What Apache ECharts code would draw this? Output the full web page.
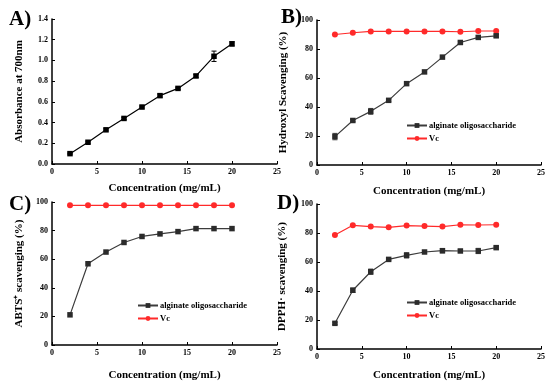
<!DOCTYPE html>
<html><head><meta charset="utf-8">
<script src="https://cdn.jsdelivr.net/npm/echarts@6/dist/echarts.min.js"></script>
<style>html,body{margin:0;padding:0;background:#fff}#c{width:550px;height:382px}</style>
</head><body><div id="c"></div>
<script>
var conc = [2,4,6,8,10,12,14,16,18,20];
var absA = [0.10,0.21,0.33,0.44,0.55,0.66,0.73,0.85,1.04,1.16];
var absAErr = [0.005,0.01,0.01,0.01,0.01,0.015,0.01,0.015,0.05,0.02];
var hydAOS = [19.6,30.7,37.0,44.6,56.1,64.2,74.4,84.5,88.0,89.1];
var hydAOSErr = [2.2,0.8,2.0,0.8,1.0,1.0,0.8,0.8,1.0,1.0];
var hydVc = [90.0,91.2,92.1,92.1,92.1,92.1,92.1,91.9,92.4,92.4];
var abtsAOS = [21.1,56.8,65.0,71.7,75.9,77.7,79.3,81.4,81.4,81.4];
var abtsVc = [97.7,97.7,97.7,97.7,97.7,97.7,97.7,97.7,97.7,97.7];
var dpphAOS = [17.7,40.5,53.3,61.8,64.6,66.9,67.8,67.6,67.6,69.9];
var dpphAOSErr = [0.8,1.5,1.8,0.8,1.8,0.8,1.5,1.0,1.8,1.0];
var dpphVc = [78.6,85.3,84.4,83.9,85.1,84.8,84.4,85.7,85.5,85.7];
var xTicks = [0,5,10,15,20,25];

var FONT = 'Liberation Serif';
function pairs(y){ return conc.map(function(x,i){return [x,y[i]];}); }
function errData(y,e){ return conc.map(function(x,i){return [x,y[i]-e[i],y[i]+e[i]];}); }

var grids = [
  {left:52, top:19, width:225, height:145},
  {left:317, top:20, width:224, height:145},
  {left:52, top:202, width:225, height:145},
  {left:317, top:204, width:224, height:145}
];
var xNames = ['Concentration (mg/mL)','Concentration (mg/mL)','Concentration (mg/mL)','Concentration (mg/mL)'];
var xGaps = [19,21,25,21];
var yNames = ['Absorbance at 700nm','Hydroxyl Scavenging (%)','ABTS\u207A scavenging (%)','DPPH\u00B7 scavenging (%)'];
var yGaps = [27,28,27,29];

var axisLine = {lineStyle:{color:'#000',width:1.5}};
var axisTick = {inside:true,length:3,lineStyle:{color:'#000',width:1}};
var lblStyle = {color:'#000',fontFamily:FONT,fontWeight:'bold',fontSize:8,margin:4};
var nameStyle = {color:'#000',fontFamily:FONT,fontWeight:'bold',fontSize:11};

var xAxis = grids.map(function(g,i){
  return {type:'value',gridIndex:i,min:0,max:25,interval:5,axisLine:axisLine,axisTick:axisTick,
    axisLabel:lblStyle,splitLine:{show:false},name:xNames[i],nameLocation:'middle',nameGap:xGaps[i],nameTextStyle:nameStyle};
});
var yAxis = grids.map(function(g,i){
  var o = {type:'value',gridIndex:i,axisLine:axisLine,axisTick:axisTick,
    axisLabel:Object.assign({},lblStyle),splitLine:{show:false},name:yNames[i],nameLocation:'middle',nameGap:yGaps[i],nameTextStyle:nameStyle};
  if(i===0){o.min=0;o.max=1.4;o.interval=0.2;o.axisLabel.formatter=function(v){return v.toFixed(1);};}
  else {o.min=0;o.max=100;o.interval=20;}
  return o;
});

function errSeries(idx,y,e,color){
  return {type:'custom',xAxisIndex:idx,yAxisIndex:idx,data:errData(y,e),z:1,silent:true,
    renderItem:function(params,api){
      var x=api.value(0), lo=api.coord([x,api.value(1)]), hi=api.coord([x,api.value(2)]);
      var w=2.5;
      return {type:'group',children:[
        {type:'line',shape:{x1:lo[0],y1:lo[1],x2:hi[0],y2:hi[1]},style:{stroke:color,lineWidth:1}},
        {type:'line',shape:{x1:lo[0]-w,y1:lo[1],x2:lo[0]+w,y2:lo[1]},style:{stroke:color,lineWidth:1}},
        {type:'line',shape:{x1:hi[0]-w,y1:hi[1],x2:hi[0]+w,y2:hi[1]},style:{stroke:color,lineWidth:1}}
      ]};
    }};
}
var GRAY='#3c3c3c', GRAYSYM='#2b2b2b', RED='#ff2a2a';
function aos(idx,y){ return {name:'alginate oligosaccharide',type:'line',xAxisIndex:idx,yAxisIndex:idx,data:pairs(y),
  symbol:'rect',symbolSize:5.5,lineStyle:{color:GRAY,width:1.2},itemStyle:{color:GRAYSYM},z:3}; }
function vc(idx,y){ return {name:'Vc',type:'line',xAxisIndex:idx,yAxisIndex:idx,data:pairs(y),
  symbol:'circle',symbolSize:6,lineStyle:{color:RED,width:1.2},itemStyle:{color:RED},z:3}; }

var series = [
  {name:'A',type:'line',xAxisIndex:0,yAxisIndex:0,data:pairs(absA),symbol:'rect',symbolSize:5.5,
    lineStyle:{color:'#000',width:1.2},itemStyle:{color:'#000'},z:3},
  errSeries(0,absA,absAErr,'#000'),
  vc(1,hydVc), aos(1,hydAOS), errSeries(1,hydAOS,hydAOSErr,GRAY),
  vc(2,abtsVc), aos(2,abtsAOS),
  vc(3,dpphVc), aos(3,dpphAOS), errSeries(3,dpphAOS,dpphAOSErr,GRAY)
];

function legendAt(left,top){
  return {left:left,top:top,orient:'vertical',itemWidth:20,itemHeight:6,itemGap:4,padding:0,
    data:['alginate oligosaccharide','Vc'],selectedMode:false,
    textStyle:{color:'#000',fontFamily:FONT,fontWeight:'bold',fontSize:8.5,padding:[0,0,0,-3]}};
}

var labelStyle = {fill:'#000',fontFamily:FONT,fontWeight:'bold',fontSize:21};
var option = {
  backgroundColor:'#fff',
  animation:false,
  grid:grids,
  xAxis:xAxis,
  yAxis:yAxis,
  legend:[legendAt(406,121),legendAt(137,301),legendAt(406,298)],
  series:series,
  graphic:[
    {type:'text',left:9,top:9,style:Object.assign({text:'A)'},labelStyle)},
    {type:'text',left:281,top:7,style:Object.assign({text:'B)'},labelStyle)},
    {type:'text',left:9,top:194,style:Object.assign({text:'C)'},labelStyle)},
    {type:'text',left:277,top:193,style:Object.assign({text:'D)'},labelStyle)}
  ]
};
echarts.init(document.getElementById('c')).setOption(option);
</script></body></html>
